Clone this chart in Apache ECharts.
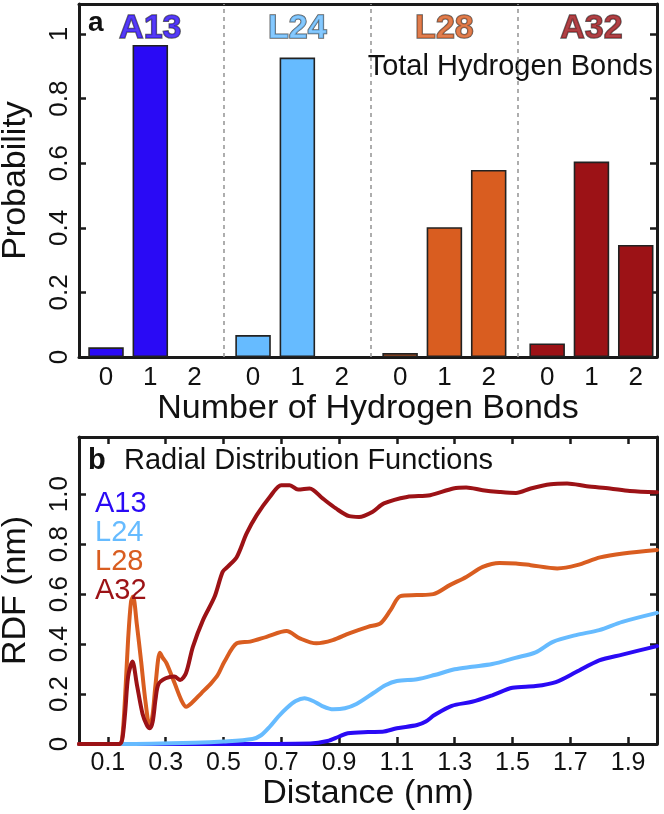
<!DOCTYPE html>
<html>
<head>
<meta charset="utf-8">
<script src="https://cdn.jsdelivr.net/npm/echarts@6/dist/echarts.min.js"></script>
<style>html,body{margin:0;padding:0;background:#fff}#c{width:664px;height:814px}</style>
</head>
<body>
<div id="c"></div>
<script>
// ---------- data ----------
const groups = ['A13', 'L24', 'L28', 'A32'];
const bondLabels = ['0', '1', '2'];
const probA13 = [0.030, 0.966, 0];
const probL24 = [0.068, 0.927, 0];
const probL28 = [0.012, 0.402, 0.579];
const probA32 = [0.042, 0.605, 0.347];

const rdfTicks = [0.1, 0.3, 0.5, 0.7, 0.9, 1.1, 1.3, 1.5, 1.7, 1.9];
const rdfYTicks = [0, 0.2, 0.4, 0.6, 0.8, 1.0];

const a13Dist = [0, 0.5, 0.8, 0.86, 0.9, 0.93, 1.0, 1.05, 1.1, 1.17, 1.2, 1.23, 1.29, 1.36, 1.43, 1.5, 1.58, 1.65, 1.72, 1.8, 1.88, 2.0];
const a13Rdf  = [0, 0, 0.002, 0.012, 0.03, 0.043, 0.048, 0.049, 0.063, 0.076, 0.09, 0.116, 0.153, 0.169, 0.195, 0.225, 0.232, 0.248, 0.288, 0.335, 0.358, 0.392];

const l24Dist = [0, 0.15, 0.4, 0.5, 0.6, 0.63, 0.66, 0.69, 0.72, 0.75, 0.78, 0.81, 0.84, 0.88, 0.92, 0.96, 1.02, 1.06, 1.1, 1.17, 1.23, 1.3, 1.36, 1.43, 1.51, 1.58, 1.64, 1.72, 1.8, 1.88, 2.0];
const l24Rdf  = [0, 0, 0.005, 0.01, 0.02, 0.035, 0.069, 0.11, 0.145, 0.172, 0.183, 0.172, 0.153, 0.139, 0.143, 0.16, 0.205, 0.235, 0.252, 0.259, 0.276, 0.299, 0.309, 0.32, 0.345, 0.367, 0.409, 0.436, 0.456, 0.489, 0.525];

const l28Dist = [0, 0.14, 0.15, 0.16, 0.17, 0.18, 0.187, 0.2, 0.215, 0.23, 0.245, 0.255, 0.265, 0.28, 0.29, 0.303, 0.331, 0.354, 0.371, 0.389, 0.423, 0.457, 0.48, 0.503, 0.546, 0.592, 0.649, 0.718, 0.764, 0.821, 0.878, 0.935, 1.0, 1.043, 1.078, 1.112, 1.169, 1.226, 1.283, 1.34, 1.397, 1.455, 1.512, 1.563, 1.655, 1.723, 1.803, 1.883, 2.0];
const l28Rdf  = [0, 0, 0.03, 0.2, 0.42, 0.57, 0.59, 0.48, 0.33, 0.17, 0.065, 0.12, 0.24, 0.365, 0.345, 0.323, 0.243, 0.176, 0.149, 0.163, 0.203, 0.243, 0.276, 0.329, 0.403, 0.41, 0.429, 0.452, 0.423, 0.403, 0.416, 0.443, 0.469, 0.483, 0.536, 0.592, 0.596, 0.6, 0.636, 0.669, 0.709, 0.725, 0.723, 0.716, 0.703, 0.716, 0.747, 0.763, 0.777];

const a32Dist = [0, 0.14, 0.15, 0.16, 0.17, 0.185, 0.2, 0.22, 0.235, 0.245, 0.255, 0.265, 0.275, 0.3, 0.33, 0.35, 0.37, 0.394, 0.429, 0.469, 0.497, 0.514, 0.546, 0.58, 0.615, 0.66, 0.7, 0.729, 0.758, 0.798, 0.843, 0.889, 0.935, 0.969, 1.015, 1.055, 1.135, 1.215, 1.295, 1.34, 1.397, 1.455, 1.512, 1.563, 1.632, 1.689, 1.757, 1.837, 1.906, 2.0];
const a32Rdf  = [0, 0, 0.02, 0.13, 0.27, 0.33, 0.24, 0.12, 0.075, 0.063, 0.09, 0.18, 0.24, 0.263, 0.27, 0.256, 0.283, 0.389, 0.496, 0.589, 0.689, 0.709, 0.749, 0.843, 0.916, 0.989, 1.036, 1.036, 1.019, 1.023, 0.983, 0.943, 0.912, 0.909, 0.929, 0.963, 0.989, 0.996, 1.023, 1.027, 1.016, 1.009, 1.005, 1.023, 1.04, 1.043, 1.032, 1.023, 1.013, 1.008];

// ---------- styles ----------
const FONT = "'Liberation Sans', Arial, Helvetica, sans-serif";
const colors = { A13: '#2a0af5', L24: '#66bbff', L28: '#d95d20', A32: '#9c1216' };
const AX = '#1a1a1a';
const GROUP_STEP = 3.32;   // spacing between groups in bar units

const probs = [probA13, probL24, probL28, probA32];
const barPos = [];
groups.forEach((g, gi) => bondLabels.forEach((b, k) => barPos.push(gi * GROUP_STEP + k)));
const barLabelFor = v => {
  const i = barPos.findIndex(p => Math.abs(p - v) < 1e-6);
  return i < 0 ? '' : bondLabels[i % 3];
};
const dividers = [1, 2, 3].map(i => (i - 1) * GROUP_STEP + (2 + GROUP_STEP) / 2);

const zip = (xs, ys) => xs.map((x, i) => [x, ys[i]]);

const axisLine = { show: true, onZero: false, lineStyle: { color: AX, width: 3 } };
const tickIn = { show: true, inside: true, length: 7, lineStyle: { color: AX, width: 2.5 } };

const barSeries = {
  type: 'bar', name: 'bonds', xAxisIndex: 0, yAxisIndex: 0,
  barWidth: 35.5,
  data: [],
  markLine: {
    silent: true, symbol: 'none', label: { show: false },
    lineStyle: { type: [4, 4], color: '#9a9a9a', width: 1.6 },
    data: dividers.map(x => ({ xAxis: x }))
  },
  z: 3
};
groups.forEach((g, gi) => probs[gi].forEach((p, k) => {
  barSeries.data.push({
    value: [gi * GROUP_STEP + k, p],
    itemStyle: { color: colors[g], borderColor: '#222', borderWidth: p > 0 ? 1.6 : 0 }
  });
}));

const groupTitleSeries = {
  type: 'scatter', xAxisIndex: 0, yAxisIndex: 0, symbolSize: 1,
  itemStyle: { color: 'transparent' }, silent: true,
  data: groups.map((g, gi) => ({
    name: g, value: [gi * GROUP_STEP + 1, 1.017],
    label: { color: colors[g] }
  })),
  label: {
    show: true, position: 'inside', formatter: p => p.name,
    fontFamily: FONT, fontWeight: 'bold', fontSize: 34,
    textBorderColor: '#3a3a3a', textBorderWidth: 1.5
  },
  z: 5
};

const lineSeries = groups.map((g) => {
  const d = { A13: [a13Dist, a13Rdf], L24: [l24Dist, l24Rdf], L28: [l28Dist, l28Rdf], A32: [a32Dist, a32Rdf] }[g];
  return {
    type: 'line', name: g, xAxisIndex: 2, yAxisIndex: 2,
    showSymbol: false, smooth: 0.3,
    lineStyle: { color: colors[g], width: 4, cap: 'round', join: 'round' },
    itemStyle: { color: colors[g] },
    data: zip(d[0], d[1]), z: 3
  };
});

const option = {
  animation: false,
  backgroundColor: '#fff',
  textStyle: { fontFamily: FONT },
  grid: [
    { left: 79, right: 7, top: 4, height: 353, containLabel: false, outerBoundsMode: 'none' },
    { left: 79, right: 7, top: 437, height: 307, containLabel: false, outerBoundsMode: 'none' }
  ],
  xAxis: [
    { type: 'value', gridIndex: 0, min: -0.61, max: 12.44, position: 'bottom',
      axisLine, axisTick: { show: false }, splitLine: { show: false },
      axisLabel: { customValues: barPos, formatter: barLabelFor, fontSize: 26, color: '#111', margin: 8, fontFamily: FONT },
      name: 'Number of Hydrogen Bonds', nameLocation: 'middle', nameGap: 34,
      nameTextStyle: { fontSize: 34, color: '#111', fontFamily: FONT } },
    { type: 'value', gridIndex: 0, min: -0.61, max: 12.44, position: 'top',
      axisLine, axisTick: { show: false }, splitLine: { show: false }, axisLabel: { show: false } },
    { type: 'value', gridIndex: 1, min: 0, max: 2.0, position: 'bottom',
      axisLine, splitLine: { show: false },
      axisTick: Object.assign({ customValues: rdfTicks }, tickIn),
      axisLabel: { customValues: rdfTicks, formatter: v => v.toFixed(1), fontSize: 25, color: '#111', margin: 7, fontFamily: FONT },
      name: 'Distance (nm)', nameLocation: 'middle', nameGap: 32,
      nameTextStyle: { fontSize: 34, color: '#111', fontFamily: FONT } },
    { type: 'value', gridIndex: 1, min: 0, max: 2.0, position: 'top',
      axisLine, splitLine: { show: false },
      axisTick: Object.assign({ customValues: rdfTicks }, tickIn), axisLabel: { show: false } }
  ],
  yAxis: [
    { type: 'value', gridIndex: 0, min: 0, max: 1.093, interval: 0.2, position: 'left',
      axisLine, axisTick: tickIn, splitLine: { show: false },
      axisLabel: { rotate: 90, fontSize: 26, color: '#111', margin: 6, fontFamily: FONT, showMaxLabel: false },
      name: 'Probability', nameLocation: 'middle', nameGap: 46,
      nameTextStyle: { fontSize: 34, color: '#111', fontFamily: FONT } },
    { type: 'value', gridIndex: 0, min: 0, max: 1.093, interval: 0.2, position: 'right',
      axisLine, axisTick: tickIn, splitLine: { show: false }, axisLabel: { show: false } },
    { type: 'value', gridIndex: 1, min: 0, max: 1.229, position: 'left',
      axisLine, axisTick: Object.assign({ customValues: rdfYTicks }, tickIn), splitLine: { show: false },
      axisLabel: { customValues: rdfYTicks, rotate: 90, fontSize: 26, color: '#111', margin: 6, fontFamily: FONT,
        formatter: v => v === 0 ? '0' : v.toFixed(1) },
      name: 'RDF (nm)', nameLocation: 'middle', nameGap: 46,
      nameTextStyle: { fontSize: 34, color: '#111', fontFamily: FONT } },
    { type: 'value', gridIndex: 1, min: 0, max: 1.229, position: 'right',
      axisLine, axisTick: Object.assign({ customValues: rdfYTicks }, tickIn), splitLine: { show: false }, axisLabel: { show: false } }
  ],
  legend: {
    orient: 'vertical', left: 90, top: 489, padding: 0, itemGap: 0,
    icon: 'none', itemWidth: 0, itemHeight: 1, selectedMode: false,
    textStyle: { fontSize: 29, lineHeight: 25, fontFamily: FONT },
    data: groups.map(g => ({ name: g, textStyle: { color: colors[g] } }))
  },
  graphic: [
    { type: 'text', left: 88, top: 9, style: { text: 'a', font: 'bold 28px ' + FONT, fill: '#111' } },
    { type: 'text', right: 11, top: 52, style: { text: 'Total Hydrogen Bonds', font: '29px ' + FONT, fill: '#111' } },
    { type: 'text', left: 88, top: 446, style: { text: 'b', font: 'bold 29px ' + FONT, fill: '#111' } },
    { type: 'text', left: 124, top: 446, style: { text: 'Radial Distribution Functions', font: '29px ' + FONT, fill: '#111' } }
  ],
  series: [barSeries, groupTitleSeries, ...lineSeries]
};

const chart = echarts.init(document.getElementById('c'), null, { renderer: 'canvas' });
chart.setOption(option);
</script>
</body>
</html>
